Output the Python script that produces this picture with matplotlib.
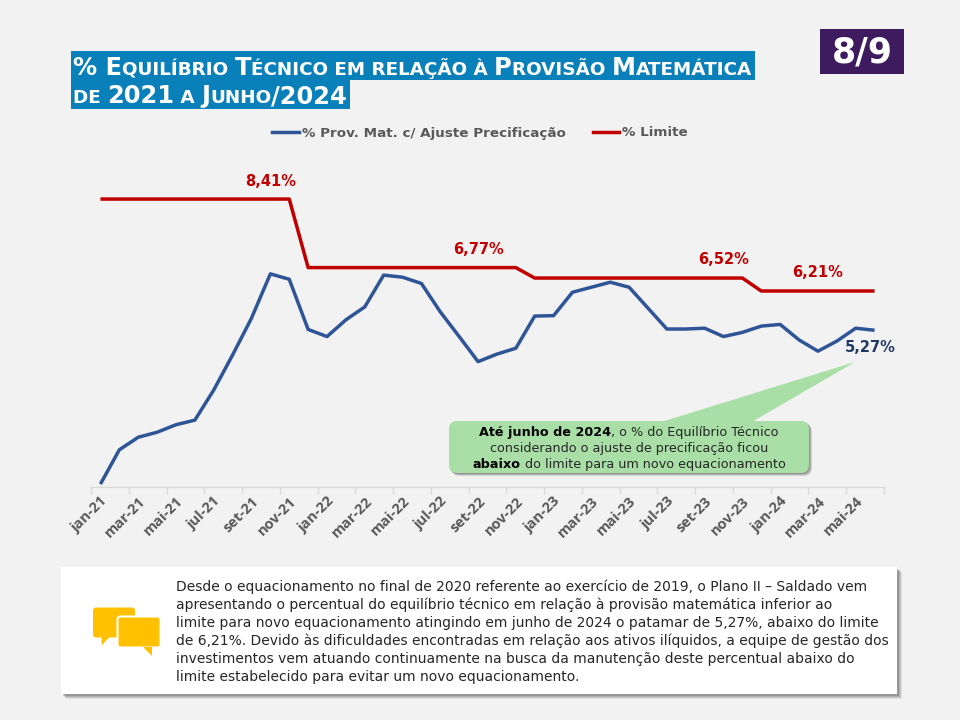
import matplotlib
matplotlib.use('Agg')
import matplotlib.pyplot as plt
from matplotlib.patches import FancyBboxPatch, Rectangle, Polygon
from matplotlib.transforms import IdentityTransform
from matplotlib.lines import Line2D
import numpy as np

# ---------------- data ----------------
categories = ['jan-21', 'fev-21', 'mar-21', 'abr-21', 'mai-21', 'jun-21', 'jul-21', 'ago-21',
              'set-21', 'out-21', 'nov-21', 'dez-21',
              'jan-22', 'fev-22', 'mar-22', 'abr-22', 'mai-22', 'jun-22', 'jul-22', 'ago-22',
              'set-22', 'out-22', 'nov-22', 'dez-22',
              'jan-23', 'fev-23', 'mar-23', 'abr-23', 'mai-23', 'jun-23', 'jul-23', 'ago-23',
              'set-23', 'out-23', 'nov-23', 'dez-23',
              'jan-24', 'fev-24', 'mar-24', 'abr-24', 'mai-24', 'jun-24']
prov_mat = [1.59, 2.41, 2.71, 2.83, 3.01, 3.12, 3.84, 4.68, 5.56, 6.62, 6.49, 5.29,
            5.12, 5.52, 5.83, 6.59, 6.54, 6.39, 5.71, 5.12, 4.52, 4.70, 4.84, 5.61,
            5.62, 6.18, 6.30, 6.42, 6.30, 5.80, 5.30, 5.30, 5.32, 5.12, 5.22, 5.37,
            5.41, 5.04, 4.77, 5.01, 5.32, 5.27]
limite = [8.41, 8.41, 8.41, 8.41, 8.41, 8.41, 8.41, 8.41, 8.41, 8.41, 8.41, 6.77,
          6.77, 6.77, 6.77, 6.77, 6.77, 6.77, 6.77, 6.77, 6.77, 6.77, 6.77, 6.52,
          6.52, 6.52, 6.52, 6.52, 6.52, 6.52, 6.52, 6.52, 6.52, 6.52, 6.52, 6.21,
          6.21, 6.21, 6.21, 6.21, 6.21, 6.21]
limite_label_idx = [9, 20, 33, 38]
limite_label_txt = ['8,41%', '6,77%', '6,52%', '6,21%']
last_label_txt = '5,27%'
series_names = ['% Prov. Mat. c/ Ajuste Precificação', '% Limite']

W, H = 960, 720
BG = '#F2F2F2'
BLUE = '#2F5597'
RED = '#C00000'
GREY = '#595959'

fig = plt.figure(figsize=(W / 100, H / 100), dpi=100, facecolor=BG)
renderer = fig.canvas.get_renderer()
ID = IdentityTransform()


def P(x, y):
    return (x, H - y)


def text_width(s, **kw):
    t1 = fig.text(0, 0, s + '|', **kw)
    w1 = t1.get_window_extent(renderer).width
    t1.remove()
    t2 = fig.text(0, 0, '|', **kw)
    w2 = t2.get_window_extent(renderer).width
    t2.remove()
    return w1 - w2


def draw_runs(runs, x_px, y_px, align='left', zorder=5):
    widths = [text_width(s, **kw) for s, kw in runs]
    total = sum(widths)
    x0 = x_px - total / 2 if align == 'center' else x_px
    cur = x0
    for (s, kw), w in zip(runs, widths):
        fig.text(cur / W, 1 - y_px / H, s, ha='left', va='baseline', zorder=zorder, **kw)
        cur += w
    return x0, total


# ---------------- chart ----------------
ax = fig.add_axes([91 / W, 1 - 487 / H, 793 / W, (487 - 174.4) / H])
ax.set_facecolor('none')
x = np.arange(len(categories))
ax.plot(x, limite, color=RED, lw=2.5, zorder=3, solid_capstyle='butt')
ax.plot(x, prov_mat, color=BLUE, lw=2.5, zorder=4, solid_capstyle='butt')
ax.set_xlim(-0.5, len(categories) - 0.5)
ax.set_ylim(1.52, 9.0)
for s in ['top', 'right', 'left']:
    ax.spines[s].set_visible(False)
ax.spines['bottom'].set_color('#D9D9D9')
ax.spines['bottom'].set_linewidth(1.0)
ax.set_yticks([])
ax.set_xticks(x[::2])
ax.set_xticklabels(categories[::2], rotation=45, ha='right', va='top',
                   rotation_mode='anchor', color=GREY, fontsize=10.5,
                   fontweight='bold', family='Open Sans')
ax.set_xticks(np.arange(-0.5, len(categories), 2), minor=True)
ax.tick_params(axis='x', which='major', length=0, pad=5)
ax.tick_params(axis='x', which='minor', length=5, color='#D9D9D9', width=1)

for i, t in zip(limite_label_idx, limite_label_txt):
    ax.annotate(t, (x[i], limite[i]), xytext=(0, 13), textcoords='offset points',
                ha='center', va='center', color=RED, fontsize=10.5,
                fontweight='bold', family='DejaVu Sans')
ax.annotate(last_label_txt, (x[-1], prov_mat[-1]), xytext=(-3, -12.5),
            textcoords='offset points', ha='center', va='center',
            color='#203864', fontsize=10.5, fontweight='bold', family='DejaVu Sans')

# legend
handles = [Line2D([], [], color=BLUE, lw=2.5), Line2D([], [], color=RED, lw=2.5)]
fig.legend(handles, series_names, loc='center', bbox_to_anchor=(480 / W, 1 - 133 / H),
           ncol=2, frameon=False, handlelength=2.0, handletextpad=0.2,
           columnspacing=2.0, labelcolor=GREY,
           prop={'family': 'DejaVu Sans', 'weight': 'bold', 'size': 9.7})

# ---------------- title ----------------
big = dict(color='white', fontsize=17.4, fontweight='bold', family='DejaVu Sans')
small = dict(color='white', fontsize=13.2, fontweight='bold', family='DejaVu Sans')
line1 = [('% E', big), ('QUILÍBRIO ', small), ('T', big), ('ÉCNICO EM RELAÇÃO À ', small),
         ('P', big), ('ROVISÃO ', small), ('M', big), ('ATEMÁTICA', small)]
line2 = [('DE ', small), ('2021', big), (' A ', small), ('J', big), ('UNHO', small),
         ('/2024', big)]
x0, w1 = draw_runs(line1, 73, 75)
x0, w2 = draw_runs(line2, 73, 103)
fig.add_artist(Rectangle(P(71, 80), w1 + 5, 29, transform=ID, facecolor='#0A80BA',
                         edgecolor='none', zorder=1))
fig.add_artist(Rectangle(P(71, 108.5), w2 + 5, 28.5, transform=ID, facecolor='#0A80BA',
                         edgecolor='none', zorder=1))

# badge
fig.add_artist(Rectangle(P(820, 74), 84, 45, transform=ID, facecolor='#3E1A5E',
                         edgecolor='none', zorder=1))
fig.text(862 / W, 1 - 52 / H, '8/9', color='white', fontsize=25, fontweight='bold',
         family='DejaVu Sans', ha='center', va='center', zorder=2)

# ---------------- callout ----------------
GREEN = '#A9DFA7'
for dx, a in [(3, 0.18), (2, 0.22), (1, 0.25)]:
    fig.add_artist(FancyBboxPatch(P(449 + dx, 473 + dx), 360, 52,
                                  boxstyle='round,pad=0,rounding_size=8', transform=ID,
                                  facecolor='#404040', alpha=a, edgecolor='none', zorder=6))
fig.add_artist(Polygon([P(658, 423), P(750, 423), P(855, 362)], closed=True, transform=ID,
                       facecolor=GREEN, edgecolor='none', zorder=7))
fig.add_artist(FancyBboxPatch(P(449, 473), 360, 52,
                              boxstyle='round,pad=0,rounding_size=8', transform=ID,
                              facecolor=GREEN, edgecolor='none', zorder=7))
cfs = 9.2
cb = dict(color='black', fontsize=cfs, fontweight='bold', family='DejaVu Sans')
cr = dict(color='#262626', fontsize=cfs, family='DejaVu Sans')
draw_runs([('Até junho de 2024', cb), (', o % do Equilíbrio Técnico', cr)], 629, 436.5,
          align='center', zorder=8)
draw_runs([('considerando o ajuste de precificação ficou', cr)], 629, 452,
          align='center', zorder=8)
draw_runs([('abaixo', cb), (' do limite para um novo equacionamento', cr)], 629, 468,
          align='center', zorder=8)

# ---------------- bottom box ----------------
for d, a in [(5, 0.10), (4, 0.14), (3, 0.18), (2, 0.22)]:
    fig.add_artist(Rectangle(P(61 + d, 694 + d), 836, 127, transform=ID,
                             facecolor='#404040', alpha=a, edgecolor='none', zorder=1))
fig.add_artist(Rectangle(P(61, 694), 836, 127, transform=ID, facecolor='white',
                         edgecolor='none', zorder=2))

body = ['Desde o equacionamento no final de 2020 referente ao exercício de 2019, o Plano II – Saldado vem',
        'apresentando o percentual do equilíbrio técnico em relação à provisão matemática inferior ao',
        'limite para novo equacionamento atingindo em junho de 2024 o patamar de 5,27%, abaixo do limite',
        'de 6,21%. Devido às dificuldades encontradas em relação aos ativos ilíquidos, a equipe de gestão dos',
        'investimentos vem atuando continuamente na busca da manutenção deste percentual abaixo do',
        'limite estabelecido para evitar um novo equacionamento.']
ref = text_width(body[0], fontsize=10, family='DejaVu Sans')
bfs = 10 * 688 / ref
for k, line in enumerate(body):
    fig.text(176 / W, 1 - (591.5 + 18 * k) / H, line, fontsize=bfs, family='DejaVu Sans',
             color='#262626', ha='left', va='baseline', zorder=3)

# icon
YEL = '#FFC000'
fig.add_artist(FancyBboxPatch(P(93, 637.5), 42, 30, boxstyle='round,pad=0,rounding_size=3',
                              transform=ID, facecolor=YEL, edgecolor='none', zorder=3))
fig.add_artist(Polygon([P(101.5, 636), P(110.5, 636), P(101.5, 645.5)], transform=ID,
                       facecolor=YEL, edgecolor='none', zorder=3))
fig.add_artist(FancyBboxPatch(P(117.5, 647.5), 43, 31, boxstyle='round,pad=0,rounding_size=3',
                              transform=ID, facecolor=YEL, edgecolor='white', lw=1.5, zorder=4))
fig.add_artist(Polygon([P(143, 646.5), P(152, 646.5), P(152, 655.5)], transform=ID,
                       facecolor=YEL, edgecolor='none', zorder=4))

fig.savefig('out.png', dpi=100, facecolor=BG)
